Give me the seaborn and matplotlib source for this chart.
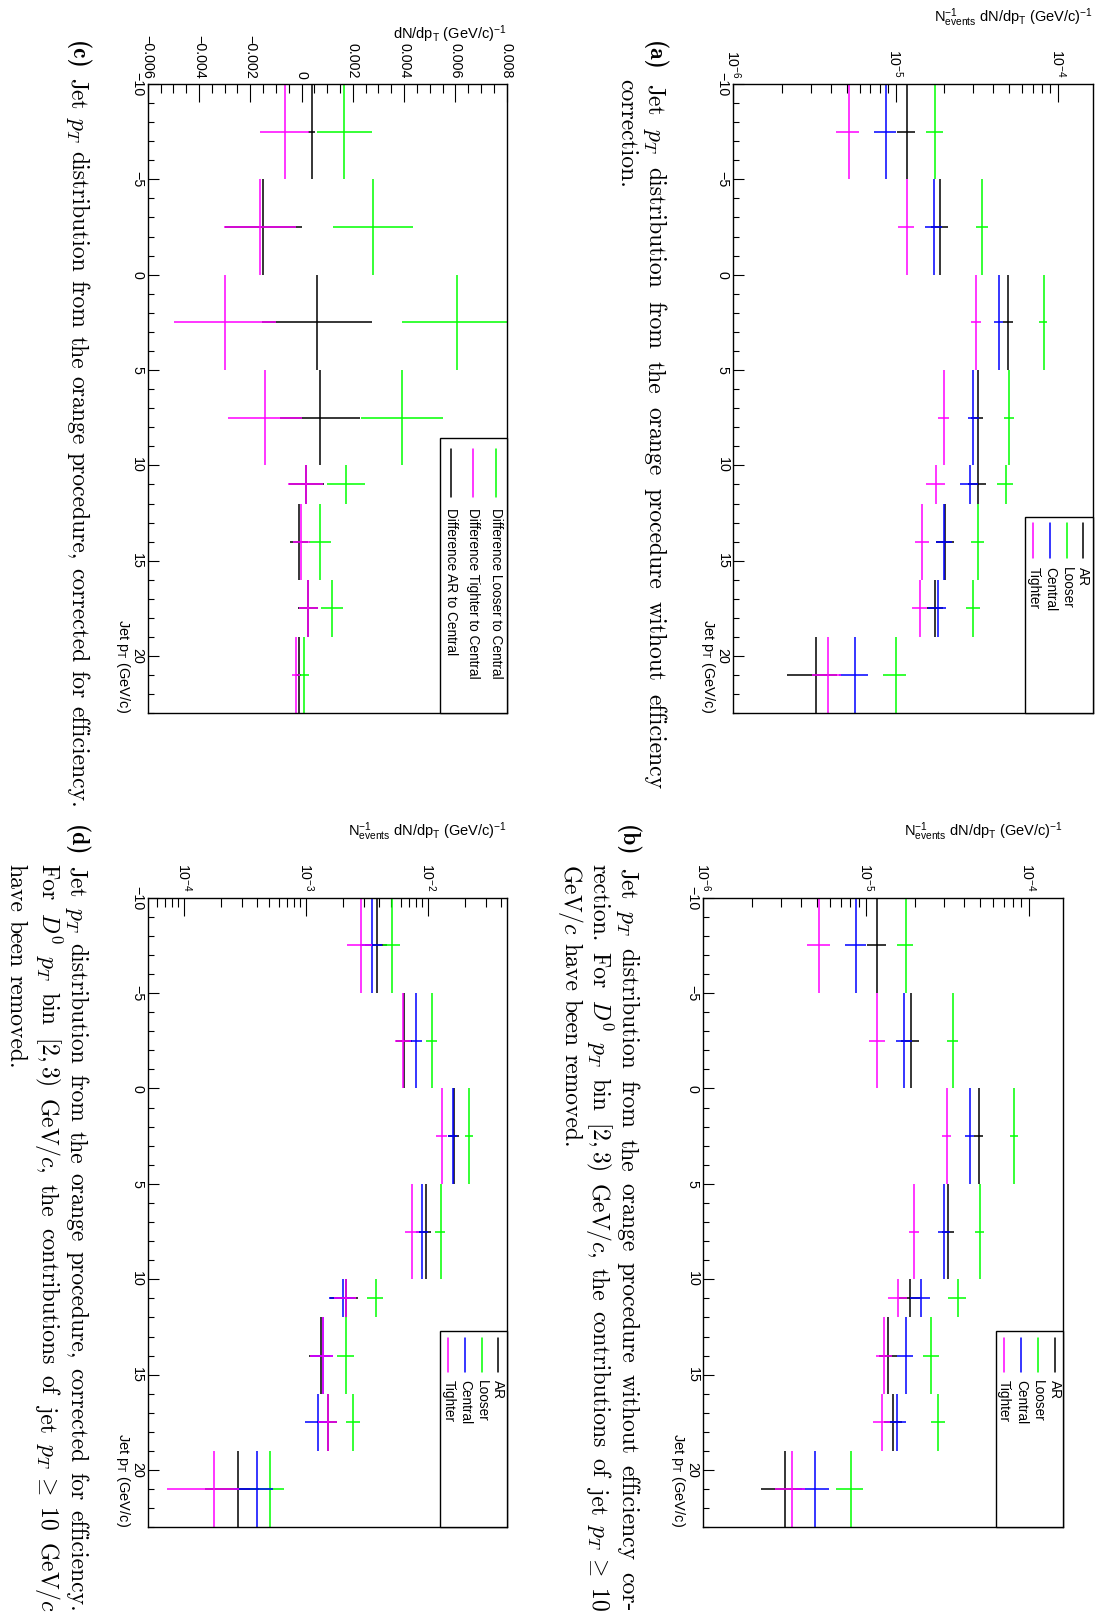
import numpy as np
import pandas as pd
import matplotlib
matplotlib.use("Agg")
import matplotlib.pyplot as plt
import seaborn as sns
from matplotlib.lines import Line2D
from matplotlib.patches import Rectangle
from matplotlib.ticker import (FixedLocator, LogLocator, NullFormatter,
                               FuncFormatter, LogFormatterSciNotation)

# ---------------- data ----------------
pt_edges = [-10, -5, 0, 5, 10, 12, 16, 19, 23]
pt_ticks = [-10, -5, 0, 5, 10, 15, 20]

# (a) without efficiency correction
a_ar = [1.17e-5, 1.88e-5, 4.94e-5, 3.20e-5, 3.20e-5, 2.03e-5, 1.76e-5, 3.25e-6]
a_ar_err = [1.5e-6, 2.3e-6, 3.2e-6, 2.7e-6, 4.0e-6, 2.6e-6, 1.9e-6, 1.1e-6]
a_looser = [1.75e-5, 3.42e-5, 8.16e-5, 5.01e-5, 4.76e-5, 3.20e-5, 3.00e-5, 1.00e-5]
a_looser_err = [2.0e-6, 2.7e-6, 4.6e-6, 3.3e-6, 5.4e-6, 3.0e-6, 3.0e-6, 1.6e-6]
a_central = [8.72e-6, 1.72e-5, 4.33e-5, 3.02e-5, 2.87e-5, 2.00e-5, 1.82e-5, 5.59e-6]
a_central_err = [1.33e-6, 2.0e-6, 2.8e-6, 2.4e-6, 3.6e-6, 2.2e-6, 2.4e-6, 1.13e-6]
a_tighter = [5.14e-6, 1.17e-5, 3.14e-5, 1.98e-5, 1.77e-5, 1.46e-5, 1.41e-5, 3.81e-6]
a_tighter_err = [8.3e-7, 1.3e-6, 2.1e-6, 1.45e-6, 2.4e-6, 1.5e-6, 1.56e-6, 7.7e-7]

# (b) without efficiency correction, jet pT >= 10 contributions removed for D0 [2,3)
b_ar = [1.17e-5, 1.88e-5, 4.94e-5, 3.20e-5, 1.865e-5, 1.372e-5, 1.472e-5, 3.16e-6]
b_ar_err = [1.5e-6, 2.3e-6, 3.2e-6, 2.7e-6, 2.7e-6, 1.7e-6, 1.9e-6, 9.0e-7]
b_looser = [1.75e-5, 3.42e-5, 8.16e-5, 5.01e-5, 3.66e-5, 2.52e-5, 2.785e-5, 8.05e-6]
b_looser_err = [2.0e-6, 2.7e-6, 4.6e-6, 3.3e-6, 4.5e-6, 2.8e-6, 2.9e-6, 1.5e-6]
b_central = [8.72e-6, 1.72e-5, 4.33e-5, 3.02e-5, 2.168e-5, 1.754e-5, 1.543e-5, 4.83e-6]
b_central_err = [1.33e-6, 2.0e-6, 2.8e-6, 2.4e-6, 3.1e-6, 2.0e-6, 2.1e-6, 1.1e-6]
b_tighter = [5.14e-6, 1.17e-5, 3.14e-5, 1.98e-5, 1.573e-5, 1.297e-5, 1.254e-5, 3.49e-6]
b_tighter_err = [8.3e-7, 1.3e-6, 2.1e-6, 1.45e-6, 2.1e-6, 1.45e-6, 1.45e-6, 7.5e-7]

# (c) differences, corrected for efficiency
c_looser = [0.00167, 0.00279, 0.00608, 0.00391, 0.00174, 0.00071, 0.00119, 0.00010]
c_looser_err = [0.00107, 0.00155, 0.00217, 0.00161, 0.00075, 0.00042, 0.00042, 0.00020]
c_tighter = [-0.00066, -0.00163, -0.00298, -0.00144, 0.00016, -0.00002, 0.00027, -0.00022]
c_tighter_err = [0.00096, 0.00140, 0.00199, 0.00144, 0.00068, 0.00033, 0.00038, 0.00016]
c_ar = [0.00040, -0.00149, 0.00059, 0.00071, 0.00018, -0.00009, 0.00026, -0.00011]
c_ar_err = [0.00013, 0.00150, 0.00214, 0.00157, 0.00068, 0.00036, 0.00040, 0.00010]

# (d) corrected for efficiency, jet pT >= 10 contributions removed for D0 [2,3)
d_ar = [3.85e-3, 6.40e-3, 1.633e-2, 9.57e-3, 2.11e-3, 1.328e-3, 1.51e-3, 2.79e-4]
d_ar_err = [8.0e-4, 9.5e-4, 1.6e-3, 1.08e-3, 5.4e-4, 2.6e-4, 2.9e-4, 1.3e-4]
d_looser = [5.10e-3, 1.072e-2, 2.183e-2, 1.27e-2, 3.75e-3, 2.13e-3, 2.43e-3, 5.04e-4]
d_looser_err = [8.3e-4, 1.1e-3, 1.6e-3, 1.2e-3, 5.6e-4, 3.3e-4, 3.2e-4, 1.56e-4]
d_central = [3.48e-3, 7.93e-3, 1.593e-2, 8.93e-3, 2.01e-3, 1.38e-3, 1.246e-3, 3.94e-4]
d_central_err = [7.0e-4, 9.5e-4, 1.25e-3, 1.0e-3, 4.6e-4, 2.8e-4, 2.6e-4, 1.39e-4]
d_tighter = [2.81e-3, 6.28e-3, 1.294e-2, 7.44e-3, 2.14e-3, 1.37e-3, 1.514e-3, 1.773e-4]
d_tighter_err = [6.6e-4, 9.5e-4, 1.3e-3, 9.6e-4, 4.5e-4, 3.0e-4, 2.7e-4, 1.05e-4]

series_names = ["AR", "Looser", "Central", "Tighter"]
diff_names = ["Difference Looser to Central", "Difference Tighter to Central",
              "Difference AR to Central"]

cap_a = ["(a) Jet $p_T$ distribution from the orange procedure without efficiency",
         "correction."]
cap_b = ["(b) Jet $p_T$ distribution from the orange procedure without efficiency cor-",
         "rection. For $D^0$ $p_T$ bin $[2,3)$ GeV/$c$, the contributions of jet $p_T\\;\\geq\\;10$",
         "GeV/$c$ have been removed."]
cap_c = ["(c) Jet $p_T$ distribution from the orange procedure, corrected for efficiency."]
cap_d = ["(d) Jet $p_T$ distribution from the orange procedure, corrected for efficiency.",
         "For $D^0$ $p_T$ bin $[2,3)$ GeV/$c$, the contributions of jet $p_T\\;\\geq\\;10$ GeV/$c$",
         "have been removed."]

ytitle_log = r"N$^{-1}_{\mathrm{events}}$ dN/dp$_{\mathrm{T}}$ (GeV/c)$^{-1}$"
ytitle_lin = r"dN/dp$_{\mathrm{T}}$ (GeV/c)$^{-1}$"
xtitle = r"Jet p$_{\mathrm{T}}$ (GeV/c)"

# ---------------- style ----------------
sns.set_theme(style="white")
plt.rcParams.update({
    "font.family": ["Liberation Sans", "DejaVu Sans"],
    "mathtext.fontset": "custom",
    "mathtext.rm": "Liberation Sans",
    "mathtext.it": "Liberation Sans:italic",
    "mathtext.bf": "Liberation Sans:bold",
    "axes.edgecolor": "black",
    "axes.linewidth": 1.0,
    "text.color": "black",
    "xtick.color": "black",
    "ytick.color": "black",
})

COL = {"AR": "#000000", "Looser": "#00ff00", "Central": "#0000ff", "Tighter": "#ff00ff"}
LW = 1.1
W, H = 1107, 1618


def fx(x):
    return x / W


def fy(y):
    return 1 - y / H


fig = plt.figure(figsize=(W / 100, H / 100), dpi=100)
renderer = fig.canvas.get_renderer()

edges = np.array(pt_edges, dtype=float)
centers = (edges[:-1] + edges[1:]) / 2
halfw = (edges[1:] - edges[:-1]) / 2


def add_axes(x0, y0, x1, y1):
    return fig.add_axes([fx(x0), fy(y1), fx(x1) - fx(x0), fy(y0) - fy(y1)])


def draw_series(ax, vals, errs, color):
    df = pd.DataFrame({"v": vals, "e": errs, "pt": centers, "hw": halfw})
    ax.errorbar(df["v"], df["pt"], xerr=df["e"], yerr=df["hw"], fmt="none",
                ecolor=color, elinewidth=LW, capsize=0)


def style(ax, log, xlim):
    if log:
        ax.set_xscale("log")
        ax.xaxis.set_major_locator(LogLocator(base=10, numticks=20))
        ax.xaxis.set_minor_locator(LogLocator(base=10, subs=np.arange(2, 10), numticks=20))
        ax.xaxis.set_major_formatter(LogFormatterSciNotation())
        ax.xaxis.set_minor_formatter(NullFormatter())
    else:
        ax.xaxis.set_major_locator(FixedLocator([-0.006, -0.004, -0.002, 0.0, 0.002, 0.004, 0.006, 0.008]))
        ax.xaxis.set_minor_locator(FixedLocator(np.arange(-0.006, 0.00801, 0.0005)))
        ax.xaxis.set_major_formatter(FuncFormatter(
            lambda v, p: "0" if abs(v) < 1e-12 else ("%.3f" % v).replace("-", "\u2212")))
    ax.set_xlim(*xlim)
    ax.set_ylim(23, -10)
    ax.yaxis.set_major_locator(FixedLocator(pt_ticks))
    ax.yaxis.set_minor_locator(FixedLocator(np.arange(-10, 24, 1)))
    ax.tick_params(axis="x", which="both", direction="in", top=True, bottom=False,
                   labeltop=True, labelbottom=False)
    ax.tick_params(axis="x", which="major", length=13, width=0.8, pad=4.0,
                   labelsize=10.3, labelrotation=-90)
    ax.tick_params(axis="x", which="minor", length=6.8, width=0.8)
    ax.tick_params(axis="y", which="both", direction="in", left=True, right=False,
                   labelleft=True, labelright=False)
    ax.tick_params(axis="y", which="major", length=7.9, width=0.8, pad=2.6,
                   labelsize=10.3, labelrotation=-90)
    ax.tick_params(axis="y", which="minor", length=4.1, width=0.8)
    plt.setp(ax.get_yticklabels(), va="center")
    for s in ax.spines.values():
        s.set_visible(True)
        s.set_color("black")
        s.set_linewidth(1.0)
    ax.grid(False)
    ax.set_facecolor("white")


def legend(box, labels, colors, xs, line_y, text_y, fs=9.8):
    x0, y0, x1, y1 = box
    fig.add_artist(Rectangle((fx(x0), fy(y1)), fx(x1) - fx(x0), fy(y0) - fy(y1),
                             transform=fig.transFigure, facecolor="white",
                             edgecolor="black", lw=1.0, zorder=5))
    for lab, c, x in zip(labels, colors, xs):
        fig.add_artist(Line2D([fx(x), fx(x)], [fy(line_y[0]), fy(line_y[1])],
                              transform=fig.transFigure, color=c, lw=LW, zorder=6))
        fig.text(fx(x), fy(text_y), lab, rotation=-90, rotation_mode="anchor",
                 ha="left", va="center", fontsize=fs, zorder=7)


def titles(ax_box, ytitle, ytitle_gap, xtitle_gap=25.0):
    x0, y0, x1, y1 = ax_box
    fig.text(fx(x1), fy(y0 - ytitle_gap), ytitle, ha="right", va="center", fontsize=10.5)
    fig.text(fx(x0 - xtitle_gap), fy(y1), xtitle, rotation=-90, rotation_mode="anchor",
             ha="right", va="center", fontsize=10.5)


# ---------------- panels ----------------
box_a = (733.3, 84.0, 1092.7, 713.3)
box_b = (703.3, 897.7, 1063.3, 1527.3)
box_c = (147.7, 84.0, 506.7, 713.3)
box_d = (147.7, 897.7, 507.3, 1527.3)

ax_a = add_axes(*box_a)
for v, e, n in [(a_ar, a_ar_err, "AR"), (a_looser, a_looser_err, "Looser"),
                (a_central, a_central_err, "Central"), (a_tighter, a_tighter_err, "Tighter")]:
    draw_series(ax_a, v, e, COL[n])
style(ax_a, True, (1e-6, 1.64e-4))

ax_b = add_axes(*box_b)
for v, e, n in [(b_ar, b_ar_err, "AR"), (b_looser, b_looser_err, "Looser"),
                (b_central, b_central_err, "Central"), (b_tighter, b_tighter_err, "Tighter")]:
    draw_series(ax_b, v, e, COL[n])
style(ax_b, True, (1e-6, 1.63e-4))

ax_c = add_axes(*box_c)
for v, e, n in [(c_ar, c_ar_err, "AR"), (c_looser, c_looser_err, "Looser"),
                (c_tighter, c_tighter_err, "Tighter")]:
    draw_series(ax_c, v, e, COL[n])
style(ax_c, False, (-0.006, 0.008))

ax_d = add_axes(*box_d)
for v, e, n in [(d_ar, d_ar_err, "AR"), (d_looser, d_looser_err, "Looser"),
                (d_central, d_central_err, "Central"), (d_tighter, d_tighter_err, "Tighter")]:
    draw_series(ax_d, v, e, COL[n])
style(ax_d, True, (5.04e-5, 4.47e-2))

titles(box_a, ytitle_log, 66.5)
titles(box_b, ytitle_log, 66.0)
titles(box_c, ytitle_lin, 50.0)
titles(box_d, ytitle_log, 66.0)

cols4 = [COL[n] for n in series_names]
legend((1025, 516.7, 1092.7, 713.3), series_names, cols4,
       [1083, 1066.7, 1050, 1033.3], (523, 558), 567)
legend((996, 1330.7, 1063.3, 1527.3), series_names, cols4,
       [1055, 1038, 1021, 1004], (1338, 1372), 1380)
legend((440, 438.3, 506.7, 713.3), diff_names, [COL["Looser"], COL["Tighter"], COL["AR"]],
       [496, 473.3, 450.7], (449, 497), 508)
legend((440, 1330.7, 507.3, 1527.3), series_names, cols4,
       [498.3, 481.7, 465, 448.3], (1338, 1372), 1380)


# ---------------- captions ----------------
def split_words(s):
    words, cur, inmath = [], "", False
    for ch in s:
        if ch == "$":
            inmath = not inmath
        if ch == " " and not inmath:
            if cur:
                words.append(cur)
            cur = ""
        else:
            cur += ch
    if cur:
        words.append(cur)
    return words


def word_widths(words, fs, bold_first):
    out = []
    for i, w in enumerate(words):
        t = fig.text(0, 0, w, fontsize=fs,
                     fontfamily="cmb10" if (bold_first and i == 0) else "cmr10",
                     math_fontfamily="cm")
        out.append(t.get_window_extent(renderer).width)
        t.remove()
    return out


def em(fs):
    return fs * 100 / 72


# calibrate caption font size: caption (c) fits its column with slightly shrunk spaces
wc = word_widths(split_words(cap_c[0]), 10, True)
fit10 = sum(wc) + (len(wc) - 1) * 0.235 * em(10)
CAP_FS = 10 * (789 - 41) / fit10


def place_line(text, xc, y0, y1, bold_first, gap_em=0.3333):
    words = split_words(text)
    ws = word_widths(words, CAP_FS, bold_first)
    space = gap_em * em(CAP_FS)
    gap = space if (y1 is None or len(ws) < 2) else (y1 - y0 - sum(ws)) / (len(ws) - 1)
    xb = xc - 0.25 * em(CAP_FS)
    y = y0
    for i, (w, wd) in enumerate(zip(words, ws)):
        fig.text(fx(xb), fy(y), w, fontsize=CAP_FS,
                 fontfamily="cmb10" if (bold_first and i == 0) else "cmr10",
                 math_fontfamily="cm", rotation=-90, rotation_mode="anchor",
                 ha="left", va="baseline")
        y += wd + gap


def caption(lines, xs, y0, y1):
    label = split_words(lines[0])[0]
    indent = word_widths([label], CAP_FS, True)[0] + 0.3333 * em(CAP_FS)
    for i, (ln, xc) in enumerate(zip(lines, xs)):
        last = i == len(lines) - 1
        start = y0 if i == 0 else y0 + indent
        place_line(ln, xc, start, None if last else y1, i == 0)


caption(cap_a, [654, 626], 41, 789)
caption(cap_b, [627, 598, 570], 825, 1611)
caption(cap_c, [77], 41, 789)
caption(cap_d, [76, 47, 15.5], 825, 1612)

fig.savefig("out.png", dpi=100, facecolor="white")
